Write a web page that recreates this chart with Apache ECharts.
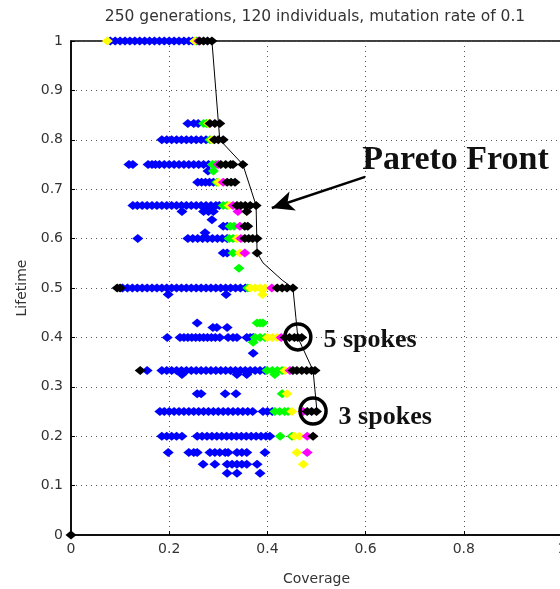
<!DOCTYPE html>
<html>
<head>
<meta charset="utf-8">
<script src="https://cdn.jsdelivr.net/npm/echarts@6/dist/echarts.min.js"></script>
<style>
  html, body { margin: 0; padding: 0; background: #fff; }
  #main { width: 560px; height: 589px; }
</style>
</head>
<body>
<div id="main"></div>
<script>
// each row: [lifetime, [coverage values...]]
const blueRows = [
  [1.0, [0.08, 0.09, 0.10, 0.11, 0.12, 0.13, 0.14, 0.15, 0.16, 0.17, 0.18, 0.19, 0.20, 0.21, 0.22, 0.23, 0.24, 0.248]],
  [0.833, [0.238, 0.25, 0.259]],
  [0.8, [0.185, 0.195, 0.205, 0.215, 0.225, 0.235, 0.245, 0.255, 0.265, 0.275]],
  [0.75, [0.118, 0.126, 0.157, 0.165, 0.172, 0.18, 0.19, 0.20, 0.21, 0.22, 0.23, 0.24, 0.25, 0.26, 0.27, 0.28]],
  [0.737, [0.279]],
  [0.714, [0.258, 0.266, 0.274, 0.282, 0.29]],
  [0.667, [0.126, 0.135, 0.145, 0.155, 0.165, 0.175, 0.185, 0.195, 0.205, 0.215, 0.225, 0.235, 0.245, 0.255, 0.265, 0.275, 0.285, 0.295, 0.302]],
  [0.655, [0.226, 0.27, 0.28, 0.29]],
  [0.638, [0.287]],
  [0.625, [0.31, 0.318]],
  [0.612, [0.273]],
  [0.6, [0.136, 0.238, 0.248, 0.258, 0.268, 0.278, 0.288, 0.298, 0.308, 0.318]],
  [0.571, [0.31, 0.318]],
  [0.5, [0.105, 0.115, 0.125, 0.135, 0.145, 0.155, 0.165, 0.175, 0.185, 0.195, 0.205, 0.215, 0.225, 0.235, 0.245, 0.255, 0.265, 0.275, 0.285, 0.295, 0.305, 0.315, 0.325, 0.335, 0.345, 0.355]],
  [0.487, [0.198, 0.316]],
  [0.429, [0.257]],
  [0.42, [0.289, 0.297, 0.318]],
  [0.4, [0.196, 0.222, 0.23, 0.238, 0.246, 0.254, 0.262, 0.27, 0.278, 0.286, 0.294, 0.303, 0.32, 0.33, 0.338, 0.358, 0.365, 0.371]],
  [0.368, [0.371]],
  [0.333, [0.155, 0.185, 0.195, 0.205, 0.215, 0.225, 0.235, 0.245, 0.255, 0.265, 0.275, 0.285, 0.295, 0.305, 0.315, 0.325, 0.335, 0.345, 0.355, 0.365, 0.375, 0.385, 0.395]],
  [0.325, [0.226, 0.338, 0.358]],
  [0.286, [0.257, 0.265, 0.314, 0.336]],
  [0.25, [0.181, 0.19, 0.2, 0.21, 0.22, 0.23, 0.24, 0.25, 0.26, 0.27, 0.28, 0.29, 0.30, 0.31, 0.32, 0.33, 0.34, 0.35, 0.36, 0.37, 0.391, 0.40, 0.41]],
  [0.2, [0.185, 0.195, 0.205, 0.215, 0.226, 0.257, 0.267, 0.277, 0.287, 0.297, 0.307, 0.317, 0.327, 0.337, 0.347, 0.357, 0.367, 0.377, 0.387, 0.397, 0.405]],
  [0.167, [0.198, 0.24, 0.25, 0.257, 0.283, 0.293, 0.303, 0.314, 0.32, 0.338, 0.348, 0.358, 0.395]],
  [0.143, [0.269, 0.293, 0.318, 0.328, 0.338, 0.348, 0.358, 0.379]],
  [0.125, [0.318, 0.338, 0.385]]
];
const greenRows = [
  [1.0, [0.256]], [0.833, [0.27, 0.276]], [0.8, [0.283]], [0.75, [0.288, 0.295]],
  [0.737, [0.29]], [0.714, [0.297]], [0.667, [0.31, 0.318]], [0.625, [0.324, 0.332]],
  [0.6, [0.322, 0.33]], [0.571, [0.33]], [0.54, [0.342]], [0.5, [0.36]],
  [0.429, [0.379, 0.385, 0.391]], [0.4, [0.375, 0.385, 0.395]], [0.39, [0.371]],
  [0.333, [0.399, 0.41, 0.42, 0.43]], [0.325, [0.415]], [0.286, [0.43]],
  [0.25, [0.415, 0.425, 0.435, 0.442]], [0.2, [0.426, 0.45]]
];
const yellowRows = [
  [1.0, [0.074, 0.252]], [0.833, [0.28]], [0.8, [0.287]], [0.714, [0.30]], [0.667, [0.322]],
  [0.6, [0.338]], [0.571, [0.344]], [0.5, [0.365, 0.375, 0.385, 0.395]], [0.487, [0.39]],
  [0.4, [0.40, 0.41, 0.42]], [0.333, [0.436]], [0.286, [0.44]], [0.25, [0.45]],
  [0.2, [0.455, 0.465]], [0.167, [0.46]], [0.143, [0.473]]
];
const magentaRows = [
  [1.0, [0.26]], [0.75, [0.30]], [0.714, [0.31]], [0.667, [0.33]], [0.655, [0.34]],
  [0.625, [0.344]], [0.6, [0.346]], [0.571, [0.354]], [0.5, [0.409]], [0.4, [0.428]],
  [0.333, [0.446]], [0.25, [0.473]], [0.2, [0.481]], [0.167, [0.481]]
];
const blackRows = [
  [1.0, [0.262, 0.27, 0.278, 0.287]], [0.833, [0.283, 0.293, 0.303]], [0.8, [0.292, 0.30, 0.31]],
  [0.75, [0.305, 0.315, 0.325, 0.33, 0.35]], [0.714, [0.318, 0.326, 0.334]],
  [0.667, [0.338, 0.346, 0.355, 0.365, 0.377]], [0.655, [0.358]], [0.625, [0.354, 0.36]],
  [0.6, [0.354, 0.362, 0.37, 0.379]], [0.571, [0.379]],
  [0.5, [0.094, 0.10, 0.42, 0.43, 0.44, 0.452]], [0.4, [0.436, 0.445, 0.455, 0.462, 0.47]],
  [0.333, [0.141, 0.452, 0.46, 0.47, 0.48, 0.49, 0.497]], [0.25, [0.481, 0.49, 0.50]],
  [0.2, [0.493]], [0, [0]]
];

// pareto front polyline
const frontX = [0.287, 0.303, 0.35, 0.377, 0.379, 0.391, 0.43, 0.452, 0.458, 0.462, 0.493, 0.501];
const frontY = [1.0, 0.8, 0.75, 0.667, 0.571, 0.551, 0.516, 0.5, 0.44, 0.4, 0.333, 0.25];

// annotations (data space)
const circle5 = [0.462, 0.401];
const circle3 = [0.493, 0.251];
const label5 = [0.513, 0.395];
const label3 = [0.544, 0.239];
const paretoLabel = [0.592, 0.759];
const arrowFrom = [0.599, 0.725];
const arrowTo = [0.409, 0.662];

const titleText = '250 generations, 120 individuals, mutation rate of 0.1';

function flatten(rows) {
  let out = [];
  rows.forEach(function (r) {
    r[1].forEach(function (x) { out.push([x, r[0]]); });
  });
  return out;
}

function scatter(name, rows, color) {
  return {
    name: name,
    type: 'scatter',
    symbol: 'diamond',
    symbolSize: [11, 9],
    itemStyle: { color: color, opacity: 1 },
    data: flatten(rows)
  };
}

const axisFont = { fontFamily: 'DejaVu Sans', fontSize: 14, color: '#333' };
const serif = { fontFamily: 'Liberation Serif', fontWeight: 'bold', color: '#111' };

let chart = echarts.init(document.getElementById('main'));
chart.setOption({
  animation: false,
  title: {
    text: titleText,
    left: 310,
    top: 4,
    textAlign: 'center',
    textStyle: { fontFamily: 'DejaVu Sans', fontSize: 15.5, fontWeight: 'normal', color: '#333' }
  },
  grid: {
    left: 71, top: 41, right: -2, bottom: 54,
    outerBoundsMode: 'none',
    show: true, borderColor: '#000', borderWidth: 1.5
  },
  xAxis: {
    type: 'value', min: 0, max: 1, interval: 0.2,
    name: 'Coverage', nameLocation: 'middle', nameGap: 37,
    nameTextStyle: axisFont,
    axisLine: { lineStyle: { color: '#000', width: 1.5 } },
    axisTick: { inside: true, length: 4, lineStyle: { color: '#000' } },
    axisLabel: Object.assign({ margin: 7, formatter: function (v) { return String(+v.toFixed(1)); } }, axisFont),
    splitLine: { show: true, lineStyle: { type: [1, 4], color: '#555', width: 1 } }
  },
  yAxis: {
    type: 'value', min: 0, max: 1, interval: 0.1,
    name: 'Lifetime', nameLocation: 'middle', nameGap: 35,
    nameTextStyle: axisFont,
    axisLine: { show: true, lineStyle: { color: '#000', width: 1.5 } },
    axisTick: { show: true, inside: true, length: 4, lineStyle: { color: '#000' } },
    axisLabel: Object.assign({ margin: 8, formatter: function (v) { return String(+v.toFixed(1)); } }, axisFont),
    splitLine: { show: true, lineStyle: { type: [1, 4], color: '#555', width: 1 } }
  },
  series: [
    scatter('blue', blueRows, '#0000ff'),
    scatter('green', greenRows, '#00ff00'),
    scatter('yellow', yellowRows, '#ffff00'),
    scatter('magenta', magentaRows, '#ff00ff'),
    scatter('black', blackRows, '#000000'),
    {
      name: 'Pareto front',
      type: 'line',
      symbol: 'none',
      z: 5,
      lineStyle: { color: '#000', width: 1 },
      data: frontX.map(function (x, i) { return [x, frontY[i]]; }),
      markPoint: {
        silent: true,
        data: [
          { coord: circle5, symbol: 'circle', symbolSize: 26, label: { show: false },
            itemStyle: { color: 'rgba(0,0,0,0)', borderColor: '#000', borderWidth: 3.5 } },
          { coord: circle3, symbol: 'circle', symbolSize: 26, label: { show: false },
            itemStyle: { color: 'rgba(0,0,0,0)', borderColor: '#000', borderWidth: 3.5 } },
          { coord: label5, symbol: 'circle', symbolSize: 1, itemStyle: { color: 'rgba(0,0,0,0)' },
            label: Object.assign({ show: true, position: 'right', distance: 0, formatter: '5 spokes', fontSize: 26 }, serif) },
          { coord: label3, symbol: 'circle', symbolSize: 1, itemStyle: { color: 'rgba(0,0,0,0)' },
            label: Object.assign({ show: true, position: 'right', distance: 0, formatter: '3 spokes', fontSize: 26 }, serif) },
          { coord: paretoLabel, symbol: 'circle', symbolSize: 1, itemStyle: { color: 'rgba(0,0,0,0)' },
            label: Object.assign({ show: true, position: 'right', distance: 0, formatter: 'Pareto Front', fontSize: 34 }, serif) }
        ]
      },
      markLine: {
        silent: true,
        symbol: ['none', 'arrow'],
        symbolSize: [15, 22],
        label: { show: false },
        lineStyle: { color: '#000', width: 2.5, type: 'solid' },
        data: [[{ coord: arrowFrom }, { coord: arrowTo }]]
      }
    }
  ]
});
</script>
</body>
</html>
